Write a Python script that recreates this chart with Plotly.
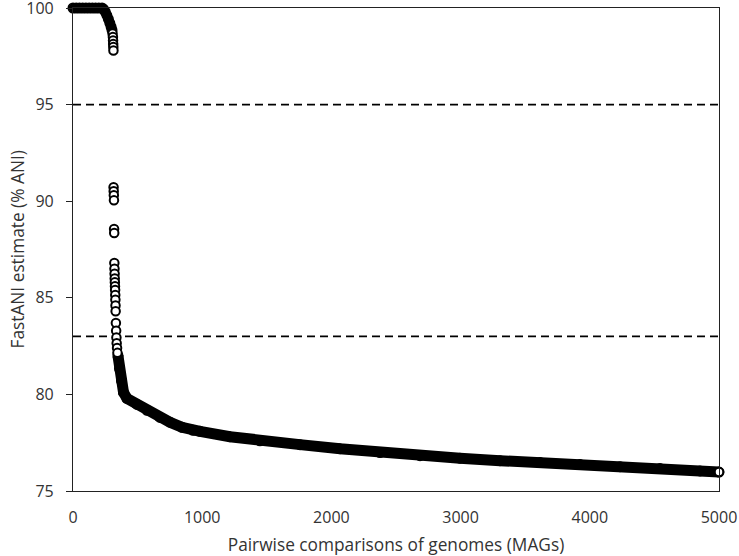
import plotly.graph_objects as go

# ---- data ----
# flat top of the curve and the start of the first drop (dense band of points)
top_x = [0, 25, 50, 75, 100, 125, 150, 175, 200, 225, 238, 250, 262, 274, 285, 295, 302]
top_y = [100, 100, 100, 100, 100, 100, 100, 100, 100, 100.0, 99.93, 99.8, 99.62, 99.42, 99.22, 99.02, 98.85]

# individually visible points (open circles) in the steep part
steep_x = [306, 309, 310, 311, 312, 313,
           314, 315, 316, 317, 318, 319,
           320, 321, 322, 323, 324, 325, 326, 327, 328, 329, 330,
           332, 334, 336, 338, 341, 344]
steep_y = [98.68, 98.5, 98.32, 98.14, 97.98, 97.8,
           90.72, 90.52, 90.31, 90.05, 88.56, 88.35,
           86.8, 86.5, 86.25, 86.0, 85.8, 85.6, 85.4, 85.15, 84.9, 84.6, 84.3,
           83.7, 83.3, 82.95, 82.65, 82.4, 82.15]

# long tail (dense band of points)
tail_x = [348, 360, 375, 391, 418, 495, 573, 673, 751, 844, 929, 983, 1215, 1447, 1757,
          2067, 2376, 2686, 2995, 3305, 3615, 3924, 4234, 4543, 4853, 5000]
tail_y = [82.0, 81.34, 80.72, 80.10, 79.79, 79.48, 79.18, 78.81, 78.56, 78.30, 78.14, 78.09, 77.81, 77.60, 77.40,
          77.19, 76.99, 76.83, 76.70, 76.57, 76.47, 76.37, 76.26, 76.16, 76.04, 75.98]

last_x = [5000]
last_y = [75.98]

threshold_lines = [95, 83]

x_ticks = [0, 1000, 2000, 3000, 4000, 5000]
y_ticks = [75, 80, 85, 90, 95, 100]

x_title = "Pairwise comparisons of genomes (MAGs)"
y_title = "FastANI estimate (% ANI)"

# ---- figure ----
band_w = 11
fig = go.Figure()
fig.add_trace(go.Scatter(
    x=top_x, y=top_y, mode="markers", cliponaxis=False,
    marker=dict(symbol="circle", size=band_w - 1.5, color="black",
                line=dict(color="black", width=1.5)),
    hoverinfo="skip", showlegend=False))
fig.add_trace(go.Scatter(
    x=tail_x, y=tail_y, mode="lines+markers", cliponaxis=False,
    line=dict(color="black", width=band_w),
    marker=dict(symbol="circle", size=band_w - 1.5, color="black",
                line=dict(color="black", width=1.5)),
    showlegend=False))
fig.add_trace(go.Scatter(
    x=steep_x, y=steep_y, mode="markers", cliponaxis=False,
    marker=dict(symbol="circle", size=8.5, color="white",
                line=dict(color="black", width=2)),
    showlegend=False))
fig.add_trace(go.Scatter(
    x=last_x, y=last_y, mode="markers", cliponaxis=False,
    marker=dict(symbol="circle", size=8.5, color="white",
                line=dict(color="black", width=2)),
    showlegend=False))

for yv in threshold_lines:
    fig.add_shape(type="line", xref="x", yref="y", x0=0, x1=5000, y0=yv, y1=yv,
                  line=dict(color="black", width=1.8, dash="8px,5px"), layer="below")

tick_font = dict(family="Open Sans, Liberation Sans, sans-serif", size=16, color="#333333")
title_font = dict(family="Open Sans, Liberation Sans, sans-serif", size=17.3, color="#333333")

fig.add_annotation(text=y_title, xref="paper", yref="paper", x=0, y=0.5,
                   xanchor="center", yanchor="middle", xshift=-56, textangle=-90,
                   showarrow=False, font=title_font)

fig.update_layout(
    width=739, height=556,
    margin=dict(l=73, r=20, t=8, b=65, autoexpand=False),
    paper_bgcolor="white", plot_bgcolor="white",
    showlegend=False,
    xaxis=dict(range=[0, 5000], tickvals=x_ticks, ticks="", showgrid=False, zeroline=False,
               showline=True, linecolor="#222222", linewidth=1.2, mirror=True,
               automargin=False, ticklabeloverflow="allow",
               tickfont=tick_font, ticklabelstandoff=12,
               title=dict(text=x_title, font=title_font, standoff=17)),
    yaxis=dict(range=[75, 100], tickvals=y_ticks, ticks="outside", ticklen=6, tickcolor="#222222",
               showgrid=False, zeroline=False,
               showline=True, linecolor="#222222", linewidth=1.2, mirror=True,
               automargin=False, ticklabeloverflow="allow",
               tickfont=tick_font, ticklabelstandoff=9),
)

# remove the browser's default 8 px page margin so the figure fills the window
fig.write_html("out.html", config={"displayModeBar": False},
               post_script="document.body.style.margin = '0px';")
